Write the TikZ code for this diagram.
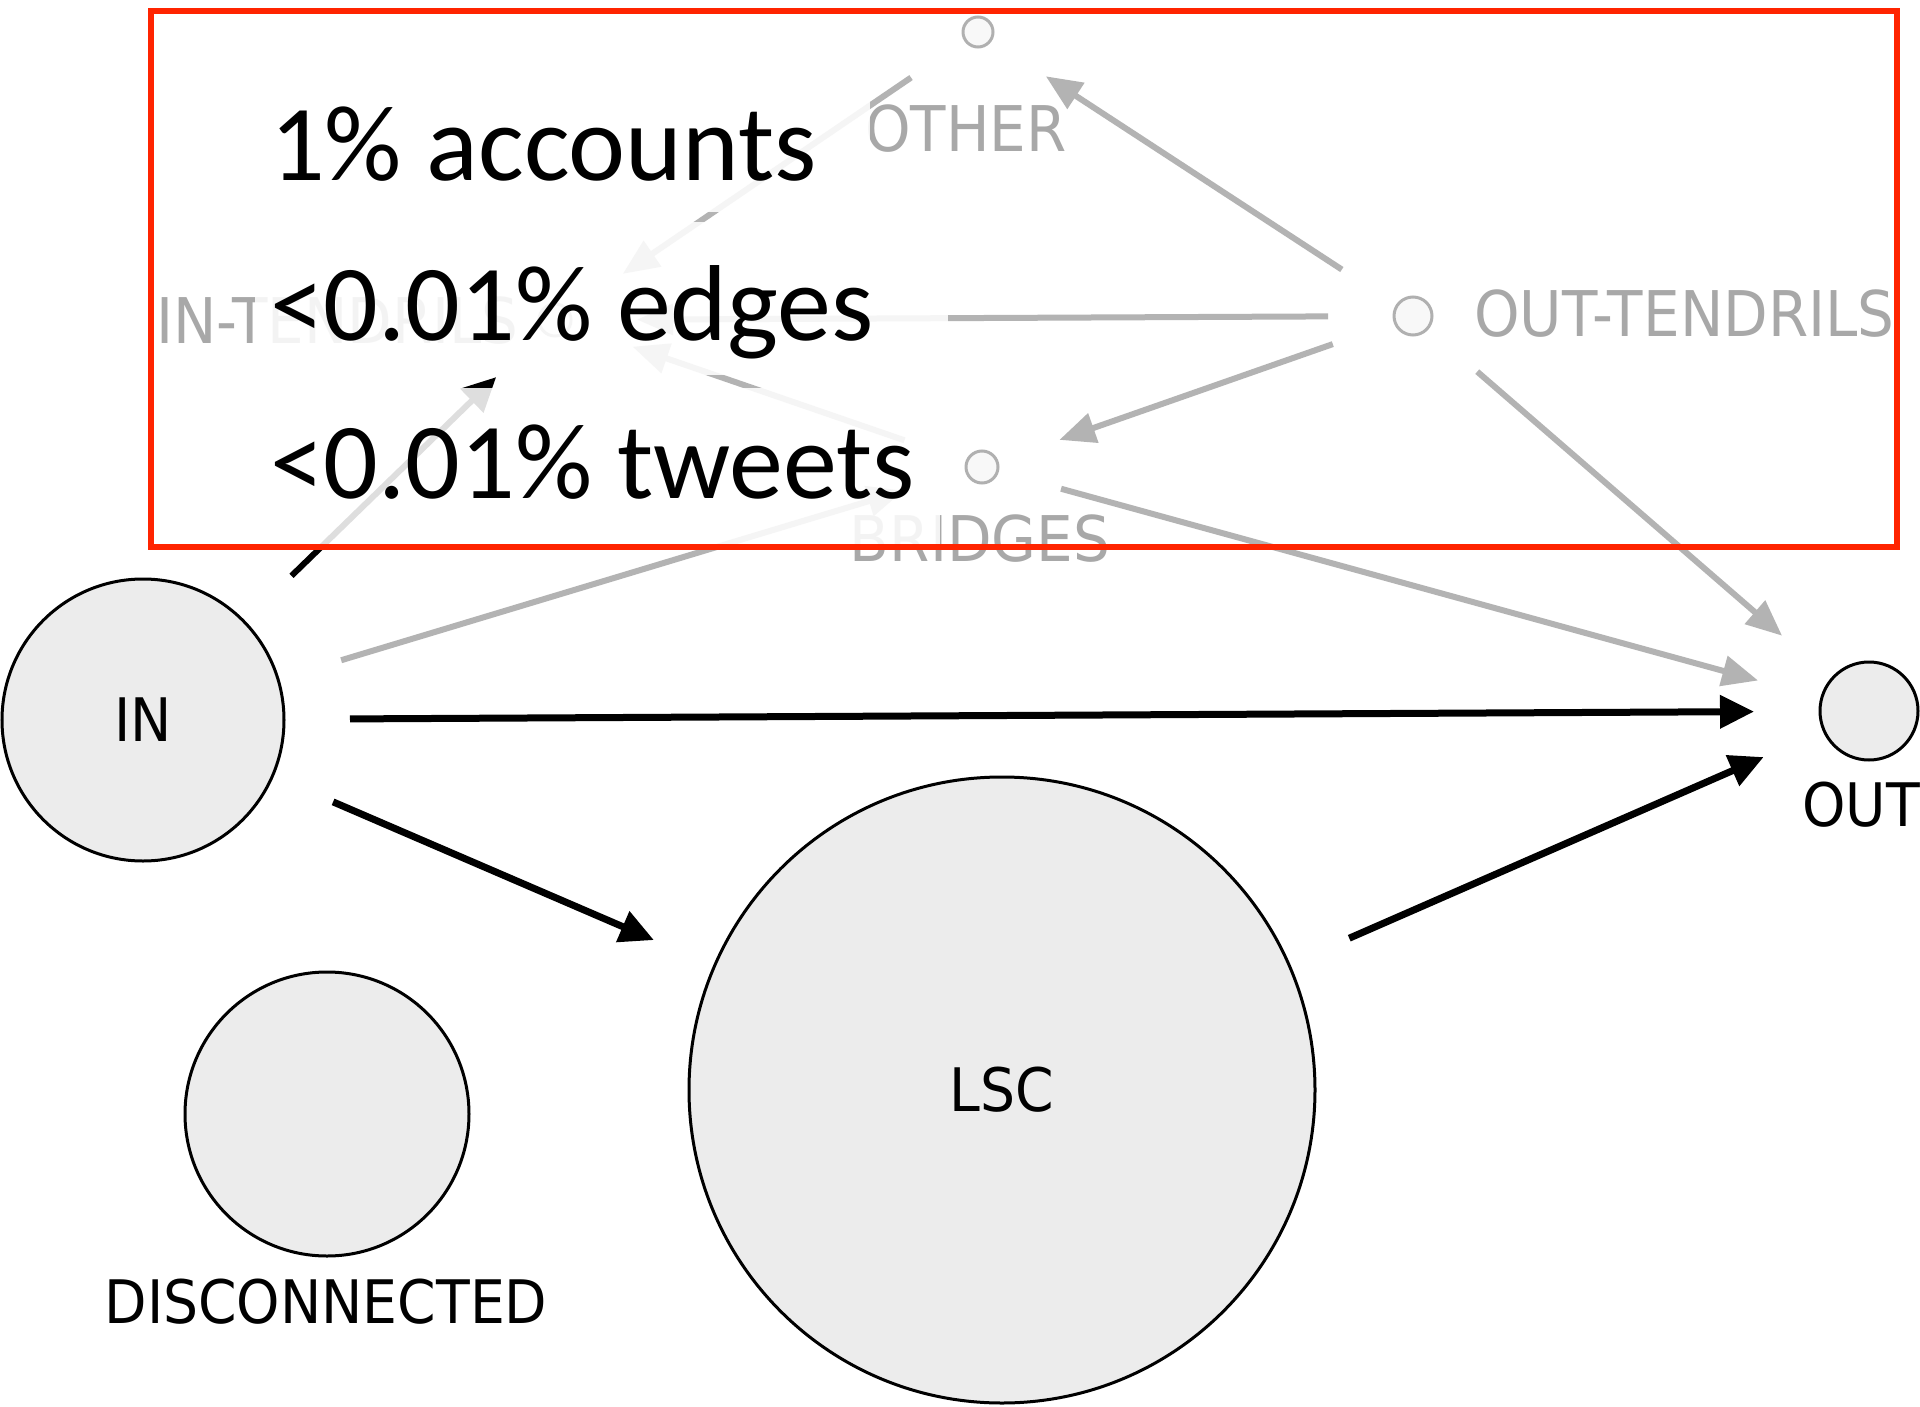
\documentclass[tikz,border=0pt]{standalone}
\usepackage{fontspec}
\setmainfont{Carlito}
\newfontfamily\labfont[FakeStretch=0.92]{DejaVu Sans}
\usetikzlibrary{arrows.meta}
\definecolor{edgegray}{RGB}{179,179,179}
\definecolor{labgray}{RGB}{168,168,168}
\definecolor{nodefill}{RGB}{236,236,236}
\definecolor{smallfill}{RGB}{248,248,248}
\definecolor{smallline}{RGB}{176,176,176}
\definecolor{boxred}{RGB}{255,36,0}
\begin{document}
\begin{tikzpicture}[x=1pt,y=-1pt,
  bignode/.style={circle, draw=black, line width=3pt, fill=nodefill, inner sep=0pt, outer sep=0pt, minimum size=#1,
    font=\labfont\fontsize{60}{72}\selectfont},
  smallnode/.style={circle, draw=smallline, line width=3pt, fill=smallfill, inner sep=0pt, outer sep=0pt, minimum size=#1},
  blacklab/.style={font=\labfont\fontsize{60}{72}\selectfont, text=black, inner sep=0pt},
  graylab/.style={font=\labfont\fontsize{63}{75}\selectfont, text=labgray, inner sep=0pt},
  blackedge/.style={draw=black, line width=7pt, shorten <=66pt, shorten >=66pt, -{Triangle[length=34pt,width=32pt]}},
  grayedge/.style={draw=edgegray, line width=6pt, shorten <=66pt, shorten >=66pt, -{Triangle[length=36pt,width=30pt]}},
  band/.style={fill=white, fill opacity=0.87, draw=none},
  bigtext/.style={font=\fontsize{108}{130}\selectfont, anchor=base west, inner sep=0pt, text=black}
]
\useasboundingbox (0,0) rectangle (1920,1407);
\fill[white] (0,0) rectangle (1920,1407);

% nodes
\node[bignode=282pt] (in) at (143,720) {IN};
\node[bignode=626pt] (lsc) at (1002,1090) {LSC};
\node[bignode=284pt] (dis) at (327,1114) {};
\node[blacklab] (dislab) at (326,1302) {DISCONNECTED};
\node[bignode=98pt] (out) at (1869,711) {};
\node[blacklab, anchor=west] (outlab) at (1802,805) {OUT};

\node[smallnode=30pt] (other) at (978,32) {};
\node[graylab] (otherlab) at (966,129) {OTHER};
\node[smallnode=38pt] (outt) at (1413,316) {};
\node[graylab, anchor=west] (outtlab) at (1474,314) {OUT-TENDRILS};
\node[smallnode=32pt] (bridges) at (982,467) {};
\node[graylab] (bridgeslab) at (980,539) {BRIDGES};
\node[smallnode=32pt] (int) at (555,320) {};
\node[graylab, anchor=west] (intlab) at (156,321) {IN-TENDRILS};

% edges
\draw[grayedge] (outt) -- (other);
\draw[grayedge] (outt) -- (int);
\draw[grayedge] (outt) -- (bridges);
\draw[grayedge] (outt) -- (out);
\draw[grayedge] (bridges) -- (out);
\draw[grayedge] (bridges) -- (int);
\draw[grayedge] (in) -- (bridges);
\draw[grayedge] (other) -- (int);
\draw[blackedge, line width=6pt] (in) -- (int);
\draw[blackedge] (in) -- (out);
\draw[blackedge] (in) -- (lsc);
\draw[blackedge] (lsc) -- (out);

% translucent highlight behind the text lines
\fill[band] (255,95) rectangle (870,212);
\fill[band] (255,222) rectangle (948,375);
\fill[band] (255,388) rectangle (940,545);

% overlay text
\node[bigtext] (t1) at (270,181) {1\% accounts};
\node[bigtext] (t2) at (270,340) {<0.01\% edges};
\node[bigtext] (t3) at (270,498) {<0.01\% tweets};

% red box
\draw[boxred, line width=6pt] (151,11) rectangle (1897,547);
\end{tikzpicture}
\end{document}
